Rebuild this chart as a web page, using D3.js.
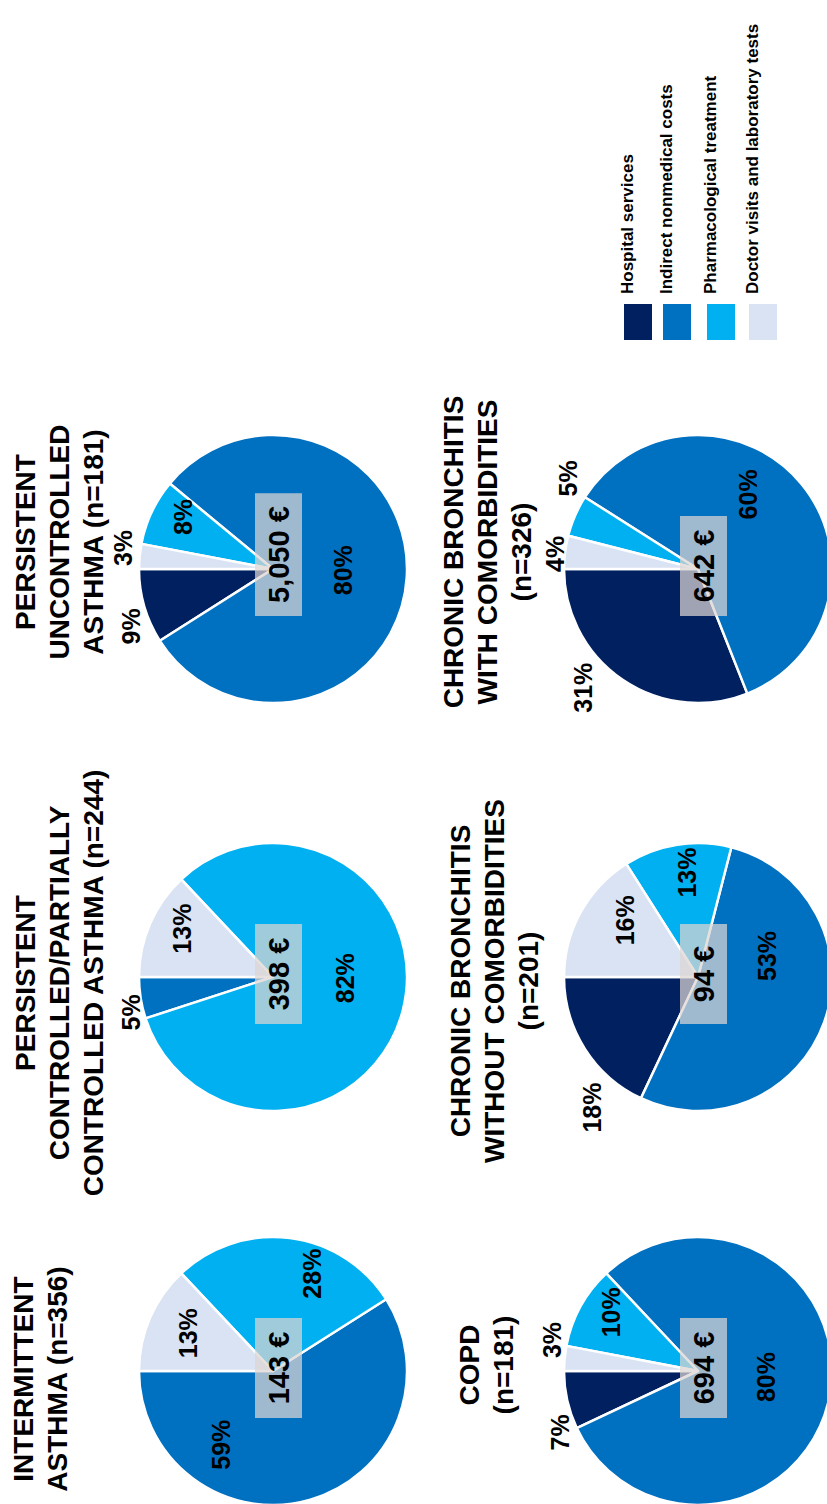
<!DOCTYPE html>
<html>
<head>
<meta charset="utf-8">
<script src="https://cdn.jsdelivr.net/npm/d3@7"></script>
<style>
  body { margin: 0; background: #fff; }
  svg text { font-family: "Liberation Sans", Arial, sans-serif; fill: #000; }
</style>
</head>
<body>
<div id="chart"></div>
<script>
// cost categories (legend order)
var categories = ["Hospital services", "Indirect nonmedical costs", "Pharmacological treatment", "Doctor visits and laboratory tests"];
var colors = ["#002060", "#0070c0", "#00b0f0", "#dae3f3"];

// share of total cost (%) per patient group
var hospital = [0, 0, 9, 7, 18, 31];
var indirect = [59, 5, 80, 80, 53, 60];
var pharma   = [28, 82, 8, 10, 13, 5];
var doctor   = [13, 13, 3, 3, 16, 4];
var totals   = ["143 €", "398 €", "5,050 €", "694 €", "94 €", "642 €"];

// group titles, one string per line
var titles = [
    ["INTERMITTENT", "ASTHMA (n=356)"],
    ["PERSISTENT", "CONTROLLED/PARTIALLY", "CONTROLLED ASTHMA (n=244)"],
    ["PERSISTENT", "UNCONTROLLED", "ASTHMA (n=181)"],
    ["COPD", "(n=181)"],
    ["CHRONIC BRONCHITIS", "WITHOUT COMORBIDITIES", "(n=201)"],
    ["CHRONIC BRONCHITIS", "WITH COMORBIDITIES", "(n=326)"]
];

// layout (drawn in an unrotated frame, then turned -90deg)
var W = 827, H = 1504;
var colU = [133, 527, 935];
var rowV = [273, 698];
var radius = 134;
var titleShift = [-8, -6, 27, 6, -4, 17];
var titleTop = [33, 35, 35, 479, 470, 463];
var lineH = 34;
// percent label spots: [angle deg, distance] per slice
var labelPos = [
    [null, [305, 90], [112, 105], [24, 93]],
    [null, [346, 146], [181, 72], [28, 103]],
    [[338, 153], [181, 70], [30, 104], [8, 151]],
    [[336, 151], [185, 69], [34, 105], [12, 149]],
    [[309, 168], [163, 72], [84, 105], [38, 92]],
    [[314, 165], [124, 90], [35, 158], [6, 144]]
];
var legendV = [638, 677, 721, 763];

var svg = d3.select("#chart").append("svg")
        .attr("width", W)
        .attr("height", H);

var g = svg.append("g")
        .attr("transform", "translate(0," + H + ") rotate(-90)");

var color = d3.scaleOrdinal().domain(categories).range(colors);

var pie = d3.pie()
        .sort(null)
        .value(function (d) { return d.v; })
        .startAngle(0)
        .endAngle(-2 * Math.PI);

var arc = d3.arc().innerRadius(0).outerRadius(radius);

titles.forEach(function (lines, i) {
    var cu = colU[i % 3];
    var cv = rowV[Math.floor(i / 3)];

    var rows = categories.map(function (c, k) {
        return {c: c, k: k, v: [hospital, indirect, pharma, doctor][k][i]};
    });

    var pg = g.append("g")
            .attr("transform", "translate(" + cu + "," + cv + ")");

    pg.selectAll("path")
            .data(pie(rows))
            .enter().append("path")
            .attr("d", arc)
            .attr("fill", function (d) { return color(d.data.c); })
            .attr("stroke", "#fff")
            .attr("stroke-width", 2.5)
            .attr("stroke-linejoin", "round");

    // percent labels
    pg.selectAll(".pct")
            .data(rows.filter(function (d) { return labelPos[i][d.k]; }))
            .enter().append("text")
            .attr("class", "pct")
            .attr("transform", function (d) {
                var p = labelPos[i][d.k];
                var xy = d3.pointRadial(p[0] * Math.PI / 180, p[1]);
                return "translate(" + xy[0] + "," + xy[1] + ")";
            })
            .attr("text-anchor", "middle")
            .attr("dy", "0.35em")
            .style("font-size", "25px")
            .style("font-weight", "bold")
            .text(function (d) { return d.v + "%"; });

    // total cost box
    var box = pg.append("g");
    var t = box.append("text")
            .attr("text-anchor", "middle")
            .style("font-size", "29px")
            .style("font-weight", "bold")
            .text(totals[i]);
    var tw = t.node().getComputedTextLength();
    var bw = Math.max(100, tw + 26);
    box.insert("rect", "text")
            .attr("x", -47)
            .attr("y", -18)
            .attr("width", bw)
            .attr("height", 47)
            .attr("fill", "#ddd5d2")
            .attr("fill-opacity", 0.72);
    t.attr("x", -47 + bw / 2).attr("y", 16);

    // title
    var tt = g.append("text")
            .attr("text-anchor", "middle")
            .style("font-size", "28px")
            .style("font-weight", "bold");
    tt.selectAll("tspan")
            .data(lines)
            .enter().append("tspan")
            .attr("x", cu + titleShift[i])
            .attr("y", function (d, j) { return titleTop[i] + j * lineH; })
            .text(function (d) { return d; });
});

// legend
var lg = g.selectAll(".legend")
        .data(categories)
        .enter().append("g")
        .attr("class", "legend");

lg.append("rect")
        .attr("x", 1164)
        .attr("y", function (d, k) { return legendV[k] - 14; })
        .attr("width", 36)
        .attr("height", 28)
        .attr("fill", function (d) { return color(d); });

lg.append("text")
        .attr("x", 1210)
        .attr("y", function (d, k) { return legendV[k] - 5; })
        .style("font-size", "17px")
        .style("font-weight", "bold")
        .text(function (d) { return d; });
</script>
</body>
</html>
